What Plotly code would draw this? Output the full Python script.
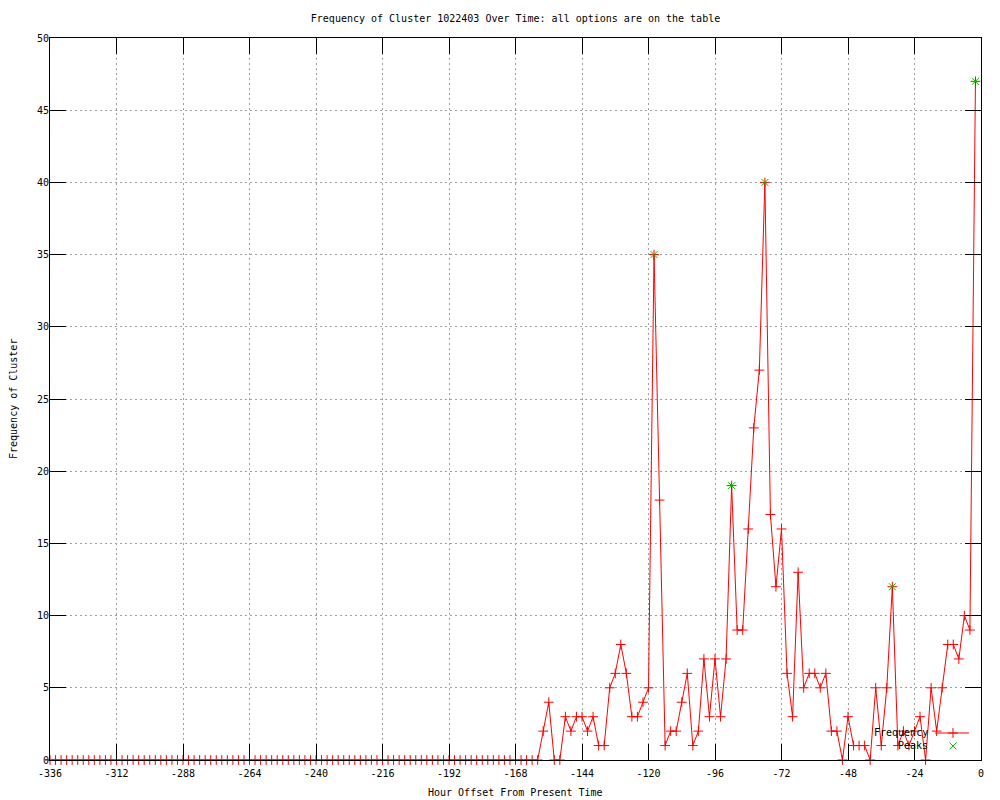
import plotly.graph_objects as go

# ---- data ----
hours = list(range(-336, 0, 2))  # one reading every 2 hours, -336 .. -2

freq_early = [  # -336 .. -160
    0, 0, 0, 0, 0, 0, 0, 0, 0, 0, 0, 0, 0, 0, 0, 0, 0, 0, 0, 0,
    0, 0, 0, 0, 0, 0, 0, 0, 0, 0, 0, 0, 0, 0, 0, 0, 0, 0, 0, 0,
    0, 0, 0, 0, 0, 0, 0, 0, 0, 0, 0, 0, 0, 0, 0, 0, 0, 0, 0, 0,
    0, 0, 0, 0, 0, 0, 0, 0, 0, 0, 0, 0, 0, 0, 0, 0, 0, 0, 0, 0,
    0, 0, 0, 0, 0, 0, 0, 0, 0,
]
freq_late = [  # -158 .. -2
    2, 4, 0, 0, 3, 2, 3, 3, 2, 3, 1, 1, 5, 6, 8, 6, 3, 3, 4, 5,
    35, 18, 1, 2, 2, 4, 6, 1, 2, 7, 3, 7, 3, 7, 19, 9, 9, 16, 23, 27,
    40, 17, 12, 16, 6, 3, 13, 5, 6, 6, 5, 6, 2, 2, 0, 3, 1, 1, 1, 0,
    5, 1, 5, 12, 1, 2, 1, 2, 3, 0, 5, 2, 5, 8, 8, 7, 10, 9, 47,
]
frequency = freq_early + freq_late

peak_hours = [-118, -90, -78, -32, -2]
peak_values = [35, 19, 40, 12, 47]

x_ticks = list(range(-336, 1, 24))
y_ticks = list(range(0, 51, 5))

title = "Frequency of Cluster 1022403 Over Time: all options are on the table"
x_title = "Hour Offset From Present Time"
y_title = "Frequency of Cluster"
legend_labels = ["Frequency", "Peaks"]

RED = "#ff0000"
GREEN = "#00c000"
FONT = "DejaVu Sans Mono"

# page body has an 8px margin, so the figure is sized to fit the window
FIG_W, FIG_H = 992, 792
ML, MR, MT, MB = 42, 19, 30, 40
PW, PH = FIG_W - ML - MR, FIG_H - MT - MB

fig = go.Figure()
fig.add_trace(go.Scatter(
    x=hours, y=frequency, mode="lines+markers", name=legend_labels[0],
    line=dict(color=RED, width=1),
    marker=dict(symbol="cross-thin", size=7, color=RED, line=dict(width=1, color=RED)),
    showlegend=False, cliponaxis=False,
))
fig.add_trace(go.Scatter(
    x=peak_hours, y=peak_values, mode="markers", name=legend_labels[1],
    marker=dict(symbol="x-thin", size=7, color=GREEN, line=dict(width=1, color=GREEN)),
    showlegend=False, cliponaxis=False,
))

# key samples (gnuplot-style key: text then sample), on an overlay unit axis
fig.add_trace(go.Scatter(
    x=[0.9506, 0.9871], y=[0.0374, 0.0374], mode="lines",
    line=dict(color=RED, width=1), xaxis="x2", yaxis="y2", showlegend=False,
    hoverinfo="skip",
))
fig.add_trace(go.Scatter(
    x=[0.9699], y=[0.0374], mode="markers",
    marker=dict(symbol="cross-thin", size=7, line=dict(width=1, color=RED)),
    xaxis="x2", yaxis="y2", showlegend=False, hoverinfo="skip",
))
fig.add_trace(go.Scatter(
    x=[0.9699], y=[0.0194], mode="markers",
    marker=dict(symbol="x-thin", size=7, line=dict(width=1, color=GREEN)),
    xaxis="x2", yaxis="y2", showlegend=False, hoverinfo="skip",
))
for lbl, yy in zip(legend_labels, [0.0374, 0.0194]):
    fig.add_annotation(text=lbl, xref="paper", yref="paper", x=0.9452, y=yy,
                       xanchor="right", yanchor="middle", showarrow=False,
                       font=dict(family=FONT, size=10, color="black"))

# axis titles as annotations (exact placement)
fig.add_annotation(text=x_title, xref="paper", yref="paper", x=0.5, y=-33 / PH,
                   xanchor="center", yanchor="middle", showarrow=False,
                   font=dict(family=FONT, size=10, color="black"))
fig.add_annotation(text=y_title, xref="paper", yref="paper", x=-37 / PW, y=0.5,
                   xanchor="center", yanchor="middle", showarrow=False, textangle=-90,
                   font=dict(family=FONT, size=10, color="black"))

axis_common = dict(
    showline=True, linecolor="black", linewidth=1, mirror="allticks",
    ticks="inside", ticklen=16, tickwidth=1, tickcolor="black",
    showgrid=True, gridcolor="#a0a0a0", griddash="2px,3px", gridwidth=1,
    zeroline=False, automargin=False,
    tickfont=dict(family=FONT, size=10, color="black"),
)

fig.update_layout(
    width=FIG_W, height=FIG_H,
    margin=dict(l=ML, r=MR, t=MT, b=MB, autoexpand=False),
    paper_bgcolor="white", plot_bgcolor="white",
    font=dict(family=FONT, size=10, color="black"),
    title=dict(text=title, x=0.5, xref="paper", y=1 - 10 / FIG_H, yref="container",
               xanchor="center", yanchor="middle",
               font=dict(family=FONT, size=10, color="black")),
    xaxis=dict(range=[-336, 0], tickvals=x_ticks, ticktext=[str(v) for v in x_ticks],
               ticklabelstandoff=4, **axis_common),
    yaxis=dict(range=[0, 50], tickvals=y_ticks, ticktext=[str(v) for v in y_ticks],
               ticklabelstandoff=-2, **axis_common),
    xaxis2=dict(range=[0, 1], overlaying="x", visible=False, fixedrange=True),
    yaxis2=dict(range=[0, 1], overlaying="y", visible=False, fixedrange=True),
    showlegend=False,
)

fig.write_html("out.html")
